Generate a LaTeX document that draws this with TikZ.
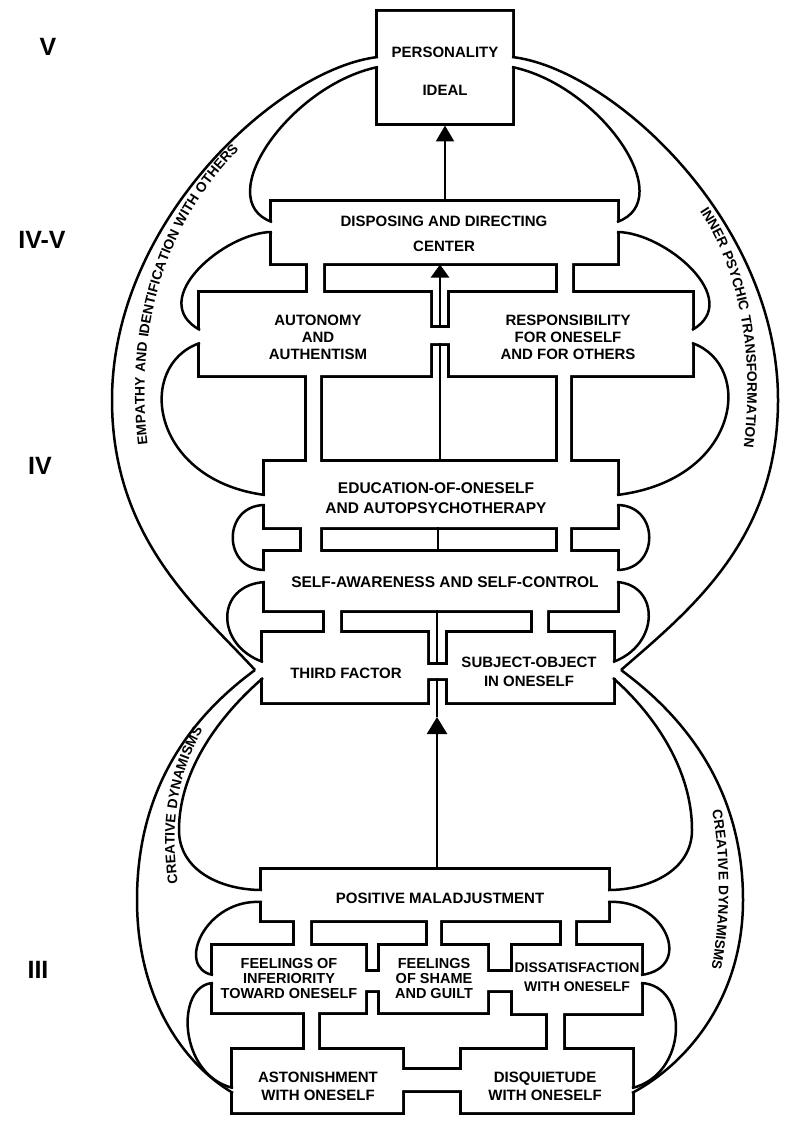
\documentclass[tikz,border=0pt]{standalone}
\usepackage{fontspec}
\setmainfont{Liberation Sans}
\newfontfamily\cfam[LetterSpace=6]{Liberation Sans}
\usetikzlibrary{arrows.meta,decorations.text}
\newcommand\boxpieces{
 (378,12) rectangle (512,123)
 (272,202) rectangle (617,263)
 (308,263) rectangle (323,293)
 (558,263) rectangle (572,293)
 (200,293) rectangle (430,375)
 (450,293) rectangle (692,375)
 (430,328) rectangle (450,343)
 (307,375) rectangle (320,462)
 (558,375) rectangle (570,462)
 (265,462) rectangle (617,527)
 (302,527) rectangle (320,552)
 (558,527) rectangle (570,552)
 (265,552) rectangle (617,610)
 (325,610) rectangle (340,633)
 (533,610) rectangle (547,633)
 (263,633) rectangle (427,702)
 (448,633) rectangle (613,702)
 (427,665) rectangle (448,678)
 (262,870) rectangle (608,920)
 (295,920) rectangle (310,946)
 (428,920) rectangle (440,946)
 (562,920) rectangle (575,946)
 (213,946) rectangle (365,1012)
 (380,946) rectangle (487,1012)
 (513,946) rectangle (641,1013)
 (365,972) rectangle (380,990)
 (487,972) rectangle (513,990)
 (305,1012) rectangle (318,1050)
 (548,1012) rectangle (563,1050)
 (233,1050) rectangle (402,1112)
 (462,1050) rectangle (632,1112)
 (402,1070) rectangle (462,1090)
}
\newcommand\cfont{\cfam\bfseries\fontsize{13.8}{13.8}\selectfont}
\begin{document}
\begin{tikzpicture}[x=1pt,y=-1pt,
  lbl/.style={font=\bfseries\fontsize{15}{17}\selectfont,align=center,inner sep=0pt},
  lvl/.style={font=\bfseries\fontsize{25}{25}\selectfont,inner sep=0pt},
  curve/.style={line width=2.5pt},
  shaft/.style={line width=2.4pt},
  gapw/.style={white,line width=6pt},
  tip/.style={-{Triangle[length=16pt,width=18pt]}}]
\fill[white] (0,0) rectangle (787,1126);
\useasboundingbox (0,0) rectangle (787,1126);
% union of boxes and stems
\path[draw=black,fill=black,line width=5.2pt,line join=miter] \boxpieces;
\fill[white] \boxpieces;
% openings where the curves meet the boxes
\foreach \x/\a/\b in {378/57/67,272/222/232,200/330/343,265/495/505,265/570/582,263/662/678,262/890/902,213/975/983,233/1088/1093,
  512/57/67,617/222/232,692/330/343,617/495/505,617/570/582,613/662/678,608/890/902,641/975/983,632/1088/1093}
  \draw[gapw] (\x,\a) -- (\x,\b);
% left curves
\draw[curve] (378,67) .. controls (290,85) and (210,200) .. (272,222);
\draw[curve] (272,232) .. controls (225,232) and (145,300) .. (200,330);
\draw[curve] (200,343) .. controls (135,365) and (150,480) .. (265,495);
\draw[curve] (265,505) .. controls (222,505) and (222,570) .. (265,570);
\draw[curve] (265,582) .. controls (215,585) and (215,645) .. (263,662);
\draw[curve] (378,57) .. controls (280,68) and (112,220) .. (112,400) .. controls (112,540) and (200,610) .. (255,670);
\draw[curve] (255,670) .. controls (180,725) and (137,800) .. (137,900) .. controls (137,1000) and (185,1065) .. (233,1093);
\draw[curve] (263,678) .. controls (220,715) and (179,770) .. (179,830) .. controls (179,870) and (220,890) .. (262,890);
\draw[curve] (262,902) .. controls (205,898) and (175,968) .. (213,975);
\draw[curve] (213,983) .. controls (175,985) and (178,1075) .. (233,1088);
% right curves
\draw[curve] (512,67) .. controls (600,85) and (680,200) .. (617,222);
\draw[curve] (617,232) .. controls (665,232) and (745,300) .. (692,330);
\draw[curve] (692,343) .. controls (755,365) and (740,480) .. (617,495);
\draw[curve] (617,505) .. controls (660,505) and (660,570) .. (617,570);
\draw[curve] (617,582) .. controls (660,585) and (660,645) .. (613,662);
\draw[curve] (512,57) .. controls (610,68) and (778,220) .. (778,400) .. controls (778,540) and (690,610) .. (621,670);
\draw[curve] (621,670) .. controls (696,725) and (743,800) .. (743,900) .. controls (743,1000) and (685,1065) .. (632,1093);
\draw[curve] (613,678) .. controls (655,715) and (692,770) .. (692,830) .. controls (692,870) and (650,890) .. (608,890);
\draw[curve] (608,902) .. controls (665,898) and (695,968) .. (641,975);
\draw[curve] (641,983) .. controls (690,985) and (688,1075) .. (632,1088);
% axis coordinates
\coordinate (persS) at (445,125.5);
\coordinate (dispN) at (445,199.4);
\coordinate (dispS) at (440,264.5);
\coordinate (bridgeA) at (440,328);
\coordinate (bridgeB) at (440,343);
\coordinate (eduN) at (440,462);
\coordinate (eduS) at (438,527);
\coordinate (saN) at (438,552);
\coordinate (saS) at (437,610);
\coordinate (bridgeC) at (437,665);
\coordinate (bridgeD) at (437,678);
\coordinate (tipF) at (437,717);
\coordinate (pmN) at (437,867.4);
\draw[shaft,tip] (dispN) -- (persS);
\draw[shaft,-{Triangle[length=13pt,width=18pt]}] (bridgeA) -- (dispS);
\draw[shaft] (eduN) -- (bridgeB);
\draw[shaft] (eduS) -- (saN);
\draw[shaft] (saS) -- (bridgeC);
\draw[shaft,-{Triangle[length=17pt,width=20pt]}] (pmN) -- (tipF);
\draw[shaft] (tipF) -- (bridgeD);
% box texts
\node[lbl] (pers1) at (445,52) {PERSONALITY};
\node[lbl] (pers2) at (445,90) {IDEAL};
\node[lbl,font=\bfseries\fontsize{15}{25}\selectfont] (disp) at (444,234) {DISPOSING AND DIRECTING\\CENTER};
\node[lbl] (auto) at (318,337) {AUTONOMY\\AND\\AUTHENTISM};
\node[lbl] (resp) at (568,337) {RESPONSIBILITY\\FOR ONESELF\\AND FOR OTHERS};
\node[lbl,font=\bfseries\fontsize{15.5}{20}\selectfont] (edu) at (436,498) {EDUCATION-OF-ONESELF\\AND AUTOPSYCHOTHERAPY};
\node[lbl,font=\bfseries\fontsize{15.5}{17}\selectfont] (sa) at (445,582) {SELF-AWARENESS AND SELF-CONTROL};
\node[lbl] (tf) at (346,673) {THIRD FACTOR};
\node[lbl,font=\bfseries\fontsize{15}{19}\selectfont] (so) at (529,672) {SUBJECT-OBJECT\\IN ONESELF};
\node[lbl] (pm) at (440,898) {POSITIVE MALADJUSTMENT};
\node[lbl,font=\bfseries\fontsize{14.5}{15}\selectfont] (inf) at (289,978) {FEELINGS OF\\INFERIORITY\\TOWARD ONESELF};
\node[lbl,font=\bfseries\fontsize{14.5}{15}\selectfont] (sha) at (434,978) {FEELINGS\\OF SHAME\\AND GUILT};
\node[lbl,font=\bfseries\fontsize{14}{19}\selectfont] (dis) at (577,977) {DISSATISFACTION\\WITH ONESELF};
\node[lbl,font=\bfseries\fontsize{15}{18}\selectfont] (ast) at (318,1086) {ASTONISHMENT\\WITH ONESELF};
\node[lbl,font=\bfseries\fontsize{15}{18}\selectfont] (disq) at (545,1086) {DISQUIETUDE\\WITH ONESELF};
% curved texts
\path[decorate,decoration={text along path,text align=center,text={|\cfont|EMPATHY AND IDENTIFICATION WITH OTHERS}}]
  (150,462) .. controls (130,330) and (165,215) .. (252,138);
\path[decorate,decoration={text along path,text align=center,text={|\cfont|INNER PSYCHIC TRANSFORMATION}}]
  (665,170) .. controls (740,240) and (765,360) .. (735,500);
\path[decorate,decoration={text along path,text align=center,text={|\cfont|CREATIVE DYNAMISMS}}]
  (182,905) .. controls (165,830) and (178,760) .. (215,712);
\path[decorate,decoration={text along path,text align=center,text={|\cfont|CREATIVE DYNAMISMS}}]
  (705,780) .. controls (722,840) and (725,920) .. (705,1000);
% levels
\node[lvl] (lv5) at (48,47) {V};
\node[lvl] (lv45) at (42,240) {IV-V};
\node[lvl] (lv4) at (40,466) {IV};
\node[lvl] (lv3) at (38,970) {III};
\end{tikzpicture}
\end{document}
